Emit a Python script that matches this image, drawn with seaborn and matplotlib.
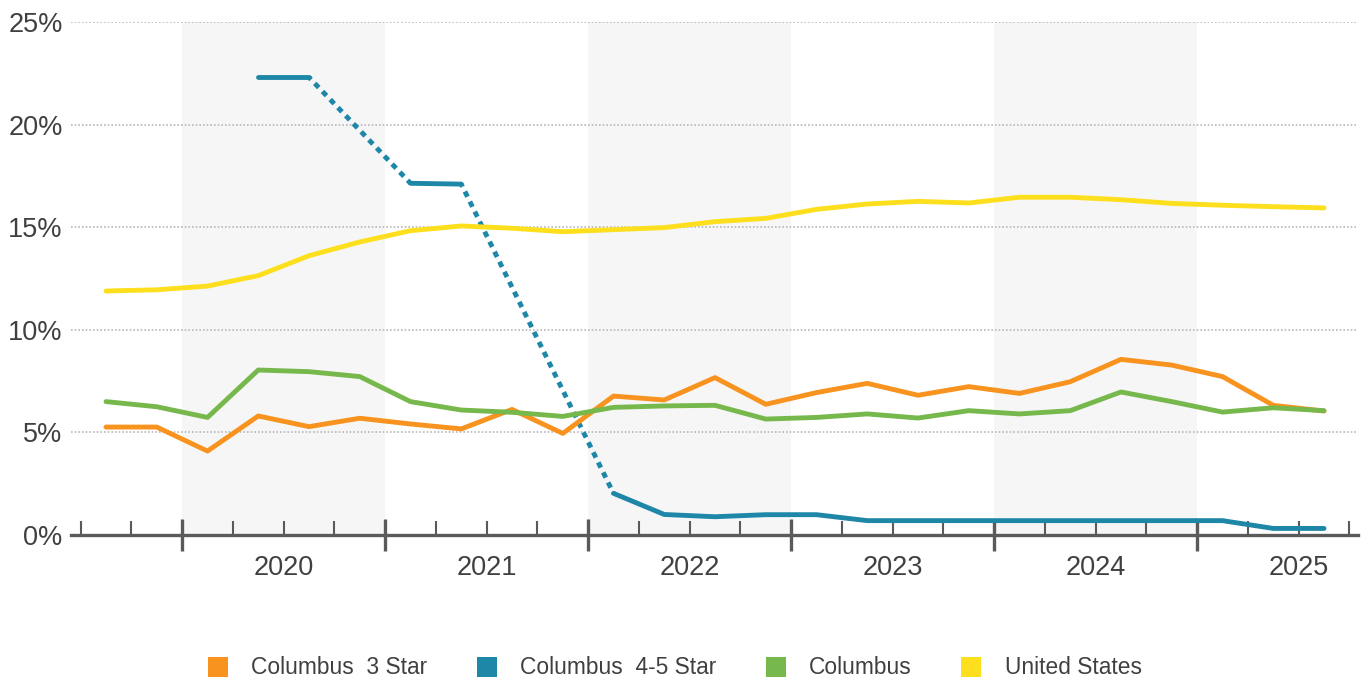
import numpy as np
import pandas as pd
import matplotlib
matplotlib.use("Agg")
import matplotlib.pyplot as plt
import matplotlib.transforms as mtransforms
from matplotlib.lines import Line2D
import seaborn as sns

# Quarterly vacancy rates, 2019 Q3 through 2025 Q3
quarters = ["2019 Q3", "2019 Q4",
            "2020 Q1", "2020 Q2", "2020 Q3", "2020 Q4",
            "2021 Q1", "2021 Q2", "2021 Q3", "2021 Q4",
            "2022 Q1", "2022 Q2", "2022 Q3", "2022 Q4",
            "2023 Q1", "2023 Q2", "2023 Q3", "2023 Q4",
            "2024 Q1", "2024 Q2", "2024 Q3", "2024 Q4",
            "2025 Q1", "2025 Q2", "2025 Q3"]

columbus_3_star = [5.26, 5.26, 4.09, 5.80, 5.28, 5.69, 5.41, 5.17, 6.12, 4.95,
                   6.77, 6.58, 7.67, 6.37, 6.94, 7.39, 6.81, 7.23, 6.90, 7.47,
                   8.56, 8.28, 7.72, 6.32, 6.04]
columbus_4_5_star = [np.nan, np.nan, np.nan, 22.3, 22.3, np.nan, 17.14, 17.1, np.nan, np.nan,
                     2.03, 1.00, 0.89, 0.99, 0.99, 0.70, 0.70, 0.70, 0.70, 0.70,
                     0.70, 0.70, 0.70, 0.32, 0.32]
columbus = [6.50, 6.25, 5.73, 8.04, 7.96, 7.72, 6.50, 6.09, 5.98, 5.78,
            6.22, 6.29, 6.32, 5.65, 5.73, 5.90, 5.70, 6.06, 5.90, 6.06,
            6.97, 6.50, 5.99, 6.20, 6.06]
united_states = [11.89, 11.95, 12.13, 12.64, 13.61, 14.28, 14.83, 15.06, 14.95, 14.78,
                 14.88, 14.98, 15.27, 15.43, 15.87, 16.13, 16.26, 16.18, 16.46, 16.46,
                 16.34, 16.16, 16.07, 16.00, 15.94]

years = ["2020", "2021", "2022", "2023", "2024", "2025"]
series_names = ["Columbus  3 Star", "Columbus  4-5 Star", "Columbus", "United States"]
colors = ["#F7931E", "#1E87A8", "#76B84C", "#FDDF1D"]
y_ticks = [0, 5, 10, 15, 20, 25]

sns.set_theme(style="white")
plt.rcParams["font.family"] = ["Liberation Sans", "DejaVu Sans"]

LW = 3.5
idx = np.arange(len(quarters))
fig = plt.figure(figsize=(13.68, 6.84), dpi=100)
ax = fig.add_axes([71 / 1368, 1 - 535 / 684, (1358 - 71) / 1368, (535 - 22) / 684])

# Alternate-year shading (2020, 2022, 2024)
first_q1 = quarters.index("2020 Q1")
for k, _ in enumerate(years):
    if k % 2 == 0:
        start = first_q1 + 4 * k - 0.5
        ax.axvspan(start, start + 4, ymin=0, ymax=1, color="#F6F6F6", lw=0, zorder=0)

# Dotted horizontal gridlines
for yv in y_ticks[1:]:
    ax.axhline(yv, color="#B8B8B8", lw=1.2, ls=(0, (1, 1.2)), zorder=1)

data = {name: vals for name, vals in zip(series_names, [columbus_3_star, columbus_4_5_star,
                                                         columbus, united_states])}

for name, color in zip(series_names, colors):
    vals = np.array(data[name], dtype=float)
    valid = ~np.isnan(vals)
    run_id = np.cumsum(~valid)
    df_runs = pd.DataFrame({"q": idx, "v": vals, "run": run_id})[valid]
    runs = [grp for _, grp in df_runs.groupby("run")]
    # solid runs where values are contiguous
    for grp in runs:
        if len(grp) > 1:
            sns.lineplot(data=grp, x="q", y="v", ax=ax, color=color, lw=LW,
                         zorder=4, legend=False, solid_capstyle="round")
    # dotted bridges across quarters with no reported value
    for a, b in zip(runs[:-1], runs[1:]):
        bridge = pd.concat([a.tail(1), b.head(1)])
        sns.lineplot(data=bridge, x="q", y="v", ax=ax, color=color, lw=LW,
                     linestyle=(0.6, (1.2, 1.1)), zorder=3, legend=False)

ax.set_xlim(-0.69, 24.67)
ax.set_ylim(0, 25)
ax.set_xlabel("")
ax.set_ylabel("")

for side in ["top", "right", "left"]:
    ax.spines[side].set_visible(False)
ax.spines["bottom"].set_color("#5A5A5A")
ax.spines["bottom"].set_linewidth(2.4)
ax.spines["bottom"].set_zorder(5)

# Year boundaries as major ticks, quarter boundaries as minor ticks
boundaries = np.arange(len(quarters) + 1) - 0.5
major = [b for b in boundaries if (b - (first_q1 - 0.5)) % 4 == 0]
minor = [b for b in boundaries if b not in major]
ax.set_xticks(major)
ax.set_xticklabels([""] * len(major))
ax.set_xticks(minor, minor=True)
ax.tick_params(axis="x", which="major", direction="inout", length=23, width=2.4,
               color="#5A5A5A", bottom=True)
ax.tick_params(axis="x", which="minor", direction="in", length=10, width=1.5,
               color="#5A5A5A", bottom=True)

ax.set_yticks(y_ticks)
ax.set_yticklabels([f"{v}%" for v in y_ticks])
ax.tick_params(axis="y", length=0, pad=6, labelsize=19.5, labelcolor="#404040")

# Year labels centred under each year
trans = mtransforms.blended_transform_factory(ax.transData, ax.transAxes)
for k, yr in enumerate(years):
    xc = first_q1 + 4 * k + 1.5
    ax.text(xc, -33 / 513, yr, transform=trans, ha="center", va="center",
            fontsize=19.5, color="#404040")

handles = [Line2D([], [], ls="none", marker="s", markersize=14.4, color=c,
                  markeredgewidth=0) for c in colors]
fig.legend(handles, series_names, loc="center", bbox_to_anchor=(0.493, 1 - 668 / 684),
           ncol=4, frameon=False, fontsize=16.4, handlelength=0.9, handletextpad=1.0,
           columnspacing=2.18, labelcolor="#404040")

fig.savefig("out.png", dpi=100, facecolor="white")
